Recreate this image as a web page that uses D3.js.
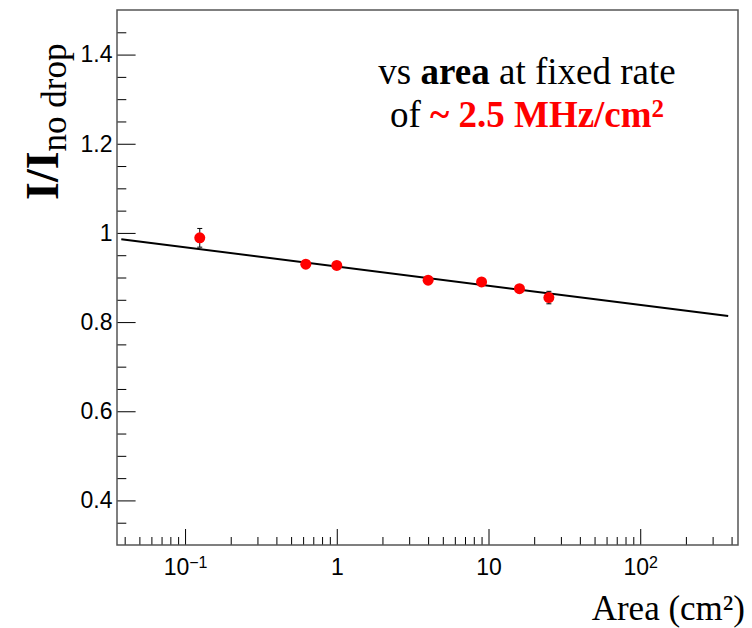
<!DOCTYPE html>
<html>
<head>
<meta charset="utf-8">
<script src="https://cdn.jsdelivr.net/npm/d3@7"></script>
<style>
  body { margin: 0; background: #fff; }
  svg { display: block; }
</style>
</head>
<body>
<div id="chart"></div>
<script>
// measured points: area (cm2) vs I/I_no drop
let areas = [0.125, 0.625, 1, 4, 9, 16, 25];
let ratios = [0.989, 0.930, 0.927, 0.894, 0.890, 0.875, 0.855];
let errors = [0.021, 0.004, 0.004, 0.004, 0.004, 0.004, 0.014];

// fit line end points (straight on log x)
let fitX = [0.038, 380];
let fitY = [0.986, 0.8136];

let xMajor = [0.1, 1, 10, 100];
let xTickBase = ["10", "1", "10", "10"];
let xTickExp = ["\u22121", "", "", "2"];
let yMajor = [0.4, 0.6, 0.8, 1.0, 1.2, 1.4];
let yTickLabels = ["0.4", "0.6", "0.8", "1", "1.2", "1.4"];

let width = 752, height = 628;
let margin = { top: 10, right: 14, bottom: 83, left: 117 };
let sans = "'Liberation Sans', Arial, Helvetica, sans-serif";
let serif = "'Liberation Serif', 'Times New Roman', Times, serif";

var svg = d3.select("#chart").append("svg")
  .attr("width", width)
  .attr("height", height);

var x = d3.scaleLog().domain([0.0356, 441]).range([margin.left, width - margin.right]);
var y = d3.scaleLinear().domain([0.3, 1.5]).range([height - margin.bottom, margin.top]);

// minor ticks
let xMinor = [];
[0.01, 0.1, 1, 10, 100].forEach(function (dec) {
  for (let k = 2; k <= 9; k++) {
    let v = dec * k;
    if (v > x.domain()[0] && v < x.domain()[1]) xMinor.push(v);
  }
});
let yMinor = d3.range(7, 30).map(i => i * 0.05).filter(v => yMajor.every(m => Math.abs(m - v) > 1e-6));

var xAxisG = svg.append("g").attr("transform", "translate(0," + y.range()[0] + ")");
xAxisG.append("g")
  .call(d3.axisBottom(x).tickValues(xMinor).tickSize(-8).tickFormat(""))
  .call(g => g.select(".domain").remove());
xAxisG.append("g")
  .call(d3.axisBottom(x).tickValues(xMajor).tickSize(-16).tickPadding(14))
  .call(g => g.select(".domain").remove())
  .call(g => g.selectAll(".tick text")
    .style("font-family", sans)
    .style("font-size", "23px")
    .attr("fill", "#000")
    .each(function (d, i) {
      var t = d3.select(this).text(xTickBase[i]);
      if (xTickExp[i]) {
        t.append("tspan").attr("dy", "-0.45em").style("font-size", "16px").text(xTickExp[i]);
      }
    }));

var yAxisG = svg.append("g").attr("transform", "translate(" + x.range()[0] + ",0)");
yAxisG.append("g")
  .call(d3.axisLeft(y).tickValues(yMinor).tickSize(-9.3).tickFormat(""))
  .call(g => g.select(".domain").remove());
yAxisG.append("g")
  .call(d3.axisLeft(y).tickValues(yMajor).tickSize(-18.6).tickPadding(4.5)
    .tickFormat((d, i) => yTickLabels[i]))
  .call(g => g.select(".domain").remove())
  .call(g => g.selectAll(".tick text")
    .style("font-family", sans)
    .style("font-size", "23px")
    .attr("fill", "#000"));

svg.selectAll(".tick line").attr("stroke", "#000").attr("stroke-width", 1);

// frame
svg.append("rect")
  .attr("x", x.range()[0])
  .attr("y", y.range()[1])
  .attr("width", x.range()[1] - x.range()[0])
  .attr("height", y.range()[0] - y.range()[1])
  .attr("fill", "none")
  .attr("stroke", "#555")
  .attr("stroke-width", 1.5);

// fit line
svg.append("line")
  .attr("x1", x(fitX[0])).attr("y1", y(fitY[0]))
  .attr("x2", x(fitX[1])).attr("y2", y(fitY[1]))
  .attr("stroke", "#000")
  .attr("stroke-width", 2);

// error bars
var pts = areas.map((a, i) => ({ a: a, r: ratios[i], e: errors[i] }));
var eb = svg.append("g").attr("stroke", "#000").attr("stroke-width", 1);
eb.selectAll(".ebar").data(pts).enter().append("line")
  .attr("x1", d => x(d.a)).attr("x2", d => x(d.a))
  .attr("y1", d => y(d.r + d.e)).attr("y2", d => y(d.r - d.e));
eb.selectAll(".ecapt").data(pts).enter().append("line")
  .attr("x1", d => x(d.a) - 2.5).attr("x2", d => x(d.a) + 2.5)
  .attr("y1", d => y(d.r + d.e)).attr("y2", d => y(d.r + d.e));
eb.selectAll(".ecapb").data(pts).enter().append("line")
  .attr("x1", d => x(d.a) - 2.5).attr("x2", d => x(d.a) + 2.5)
  .attr("y1", d => y(d.r - d.e)).attr("y2", d => y(d.r - d.e));

// markers
svg.selectAll(".pt").data(pts).enter().append("circle")
  .attr("cx", d => x(d.a))
  .attr("cy", d => y(d.r))
  .attr("r", 5.5)
  .attr("fill", "#ff0000");

// annotation
var note1 = svg.append("text")
  .attr("x", 527).attr("y", 84)
  .attr("text-anchor", "middle")
  .style("font-family", serif)
  .style("font-size", "37px");
note1.append("tspan").text("vs ");
note1.append("tspan").style("font-weight", "bold").text("area");
note1.append("tspan").text(" at fixed rate");

var note2 = svg.append("text")
  .attr("x", 527).attr("y", 127)
  .attr("text-anchor", "middle")
  .style("font-family", serif)
  .style("font-size", "37px");
note2.append("tspan").text("of ");
note2.append("tspan").attr("fill", "#ff0000").style("font-weight", "bold").text("~ 2.5 MHz/cm");
note2.append("tspan").attr("fill", "#ff0000").style("font-weight", "bold")
  .attr("dy", "-0.4em").style("font-size", "25px").text("2");

// x title
svg.append("text")
  .attr("x", 745).attr("y", 620)
  .attr("text-anchor", "end")
  .style("font-family", serif)
  .style("font-size", "35px")
  .text("Area (cm\u00b2)");

// y title
var yt = svg.append("text")
  .attr("transform", "translate(58,200) rotate(-90)")
  .attr("text-anchor", "start")
  .style("font-family", serif);
yt.append("tspan").style("font-size", "46px").style("font-weight", "bold").text("I/I");
yt.append("tspan").attr("dy", 8).style("font-size", "35px").text("no drop");
</script>
</body>
</html>
